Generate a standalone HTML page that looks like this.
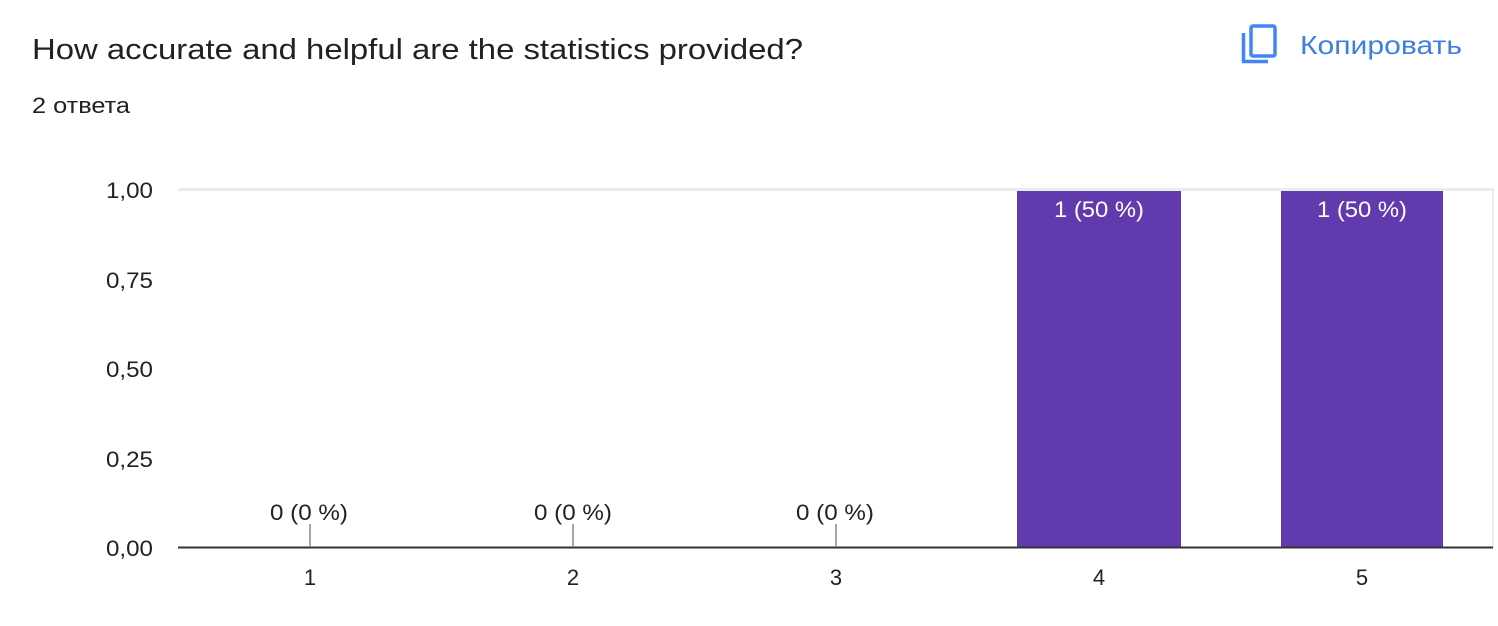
<!DOCTYPE html>
<html><head><meta charset="utf-8"><style>
body{margin:0;background:#fff;width:1498px;height:621px;overflow:hidden;font-family:"Liberation Sans",Arial,sans-serif}
</style></head><body>
<svg width="1498" height="621" xmlns="http://www.w3.org/2000/svg" font-family="Liberation Sans, Arial, sans-serif">
<text x="32" y="59" font-size="29" fill="#202124" textLength="771" lengthAdjust="spacingAndGlyphs">How accurate and helpful are the statistics provided?</text>
<text x="32" y="113" font-size="22" fill="#202124" textLength="98" lengthAdjust="spacingAndGlyphs">2 ответа</text>
<rect x="1251" y="26" width="24" height="30" rx="2" fill="none" stroke="#4285f4" stroke-width="3.5"/>
<path d="M1243.5 33 V61.5 H1268" fill="none" stroke="#4285f4" stroke-width="3.5"/>
<text x="1300" y="54" font-size="26" fill="#3f7fe0" textLength="162" lengthAdjust="spacingAndGlyphs">Копировать</text>
<g stroke="#ececec" stroke-width="2">
<line x1="178" y1="189.5" x2="1494" y2="189.5" stroke-width="3"/>
<line x1="1493" y1="189" x2="1493" y2="547"/>
</g>
<rect x="1017" y="191" width="164" height="356" fill="#613bae"/>
<rect x="1281" y="191" width="162" height="356" fill="#613bae"/>
<line x1="178" y1="547.5" x2="1493" y2="547.5" stroke="#333" stroke-width="2"/>
<g stroke="#888" stroke-width="1.5">
<line x1="310" y1="524" x2="310" y2="547"/>
<line x1="573" y1="524" x2="573" y2="547"/>
<line x1="836" y1="524" x2="836" y2="547"/>
</g>
<g font-size="22" fill="#222" text-anchor="end">
<text x="153" y="198" textLength="47" lengthAdjust="spacingAndGlyphs">1,00</text>
<text x="153" y="288" textLength="47" lengthAdjust="spacingAndGlyphs">0,75</text>
<text x="153" y="377" textLength="47" lengthAdjust="spacingAndGlyphs">0,50</text>
<text x="153" y="467" textLength="47" lengthAdjust="spacingAndGlyphs">0,25</text>
<text x="153" y="556" textLength="47" lengthAdjust="spacingAndGlyphs">0,00</text>
</g>
<g font-size="22" fill="#222" text-anchor="middle">
<text x="310" y="585">1</text><text x="573" y="585">2</text><text x="836" y="585">3</text>
<text x="1099" y="585">4</text><text x="1362" y="585">5</text>
<text x="309" y="520" textLength="78" lengthAdjust="spacingAndGlyphs">0 (0 %)</text>
<text x="573" y="520" textLength="78" lengthAdjust="spacingAndGlyphs">0 (0 %)</text>
<text x="835" y="520" textLength="78" lengthAdjust="spacingAndGlyphs">0 (0 %)</text>
<text x="1099" y="217" fill="#fff" textLength="90" lengthAdjust="spacingAndGlyphs">1 (50 %)</text>
<text x="1362" y="217" fill="#fff" textLength="90" lengthAdjust="spacingAndGlyphs">1 (50 %)</text>
</g>
</svg>
</body></html>
